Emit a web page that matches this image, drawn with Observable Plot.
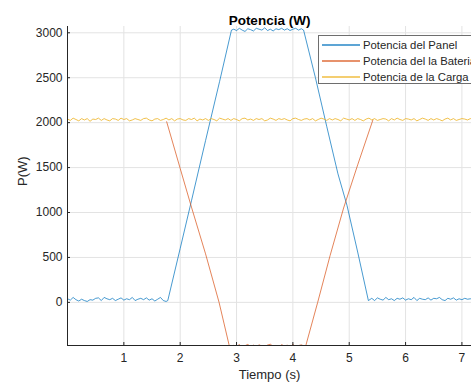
<!DOCTYPE html>
<html>
<head>
<meta charset="utf-8">
<script src="https://cdn.jsdelivr.net/npm/d3@7"></script>
<script src="https://cdn.jsdelivr.net/npm/@observablehq/plot@0.6"></script>
<style>
  html, body { margin: 0; padding: 0; background: #fff; overflow: hidden; }
  #wrap { position: relative; width: 471px; height: 385px; overflow: hidden; font-family: "Liberation Sans", Arial, sans-serif; }
  #legend { position: absolute; left: 318px; top: 35px; }
</style>
</head>
<body>
<div id="wrap"></div>
<script>
// ---- Data ----
const title = "Potencia (W)";
const xLabel = "Tiempo (s)";
const yLabel = "P(W)";
const seriesNames = ["Potencia del Panel", "Potencia del la Bateria", "Potencia de la Carga"];
const seriesColors = ["#0072BD", "#D95319", "#EDB120"];
const xTicks = [1, 2, 3, 4, 5, 6, 7];
const yTicks = [0, 500, 1000, 1500, 2000, 2500, 3000];
const xDomain = [0, 7.17];
const yDomain = [-480, 3070];
const sampleStep = 0.05;

// Panel (blue)
const panelLow1 = [40,25,55,30,15,35,20,10,30,25,45,50,20,55,40,30,45,20,35,50,25,40,30,55,20,35,45,30,50,25,40,15,35,55,20,10]; // t = 0 .. 1.75
const panelRise = [[1.78,20],[2.0,600],[2.2,1130],[2.45,1800],[2.7,2460],[2.91,3030]];
const panelTop = [3040,3025,3050,3030,3015,3045,3035,3020,3050,3040,3030,3055,3025,3040,3020,3045,3035,3050,3030,3045,3025,3040,3050,3030,3045]; // t = 2.95 .. 4.15
const panelFall = [[4.19,3030],[4.4,2500],[4.6,1960],[4.8,1430],[4.96,1080],[5.15,560],[5.34,20]];
const panelLow2 = [45,20,50,35,25,55,30,40,20,45,35,50,25,40,30,55,20,45,35,30,50,25,45,40,55,30,20,45,35,50,25,40,30,45,35,40,30]; // t = 5.4 .. 7.2

// Battery (orange) — outside the dip it lies under the load line
const batFall = [[1.76,2010],[2.0,1490],[2.2,1060],[2.45,540],[2.69,0],[2.87,-480]];
const batLow = [-495,-478,-490,-470,-500,-482,-468,-492,-476,-498,-472,-486,-494,-475,-466,-490,-480,-499,-471,-485,-477,-494,-469,-489,-481,-473,-486]; // t = 2.9 .. 4.2
const batRise = [[4.23,-480],[4.44,0],[4.66,520],[4.9,1050],[5.15,1530],[5.42,2030]];

// Load (yellow), t = 0 .. 7.2
const loadValues = [
2040,2025,2050,2035,2020,2045,2030,2045,2015,2040,
2035,2050,2025,2045,2030,2020,2045,2040,2025,2050,
2035,2045,2020,2030,2045,2035,2025,2045,2050,2030,
2020,2040,2045,2025,2035,2050,2030,2045,2020,2040,
2045,2030,2025,2045,2035,2050,2020,2040,2030,2045,
2025,2045,2035,2020,2050,2040,2030,2045,2025,2045,
2035,2020,2045,2050,2030,2040,2025,2045,2035,2045,
2020,2030,2050,2040,2025,2045,2035,2045,2030,2020,
2045,2050,2035,2025,2040,2045,2030,2045,2020,2035,
2050,2040,2025,2045,2030,2045,2035,2020,2050,2040,
2030,2045,2025,2045,2035,2020,2040,2050,2030,2045,
2025,2035,2045,2040,2020,2045,2030,2050,2035,2025,
2045,2040,2030,2045,2020,2035,2050,2040,2025,2045,
2030,2045,2035,2020,2040,2050,2030,2045,2025,2035,
2045,2040,2030,2045,2035];

// ---- Build rows ----
const sampled = (t0, vals) => vals.map((v, i) => ({t: +(t0 + i * sampleStep).toFixed(3), v}));
const pairs = (arr) => arr.map(([t, v]) => ({t, v}));

const panel = [...sampled(0, panelLow1), ...pairs(panelRise), ...sampled(2.95, panelTop), ...pairs(panelFall), ...sampled(5.4, panelLow2)];
const battery = [...pairs(batFall), ...sampled(2.9, batLow), ...pairs(batRise)];
const load = sampled(0, loadValues);

const W = 471, H = 385;
const mL = 67, mR = 0, mT = 26, mB = 40;
const plotW = W - mL - mR, plotH = H - mT - mB;
const font = "Liberation Sans, Arial, sans-serif";

const chart = Plot.plot({
  width: W, height: H,
  marginLeft: mL, marginRight: mR, marginTop: mT, marginBottom: mB,
  style: {fontFamily: font, background: "#fff", overflow: "visible"},
  x: {domain: xDomain},
  y: {domain: yDomain},
  marks: [
    Plot.gridX(xTicks, {stroke: "#e3e3e3", strokeOpacity: 1}),
    Plot.gridY(yTicks, {stroke: "#e3e3e3", strokeOpacity: 1}),
    Plot.line(panel, {x: "t", y: "v", stroke: seriesColors[0], strokeWidth: 0.85, strokeOpacity: 0.85, clip: true}),
    Plot.line(battery, {x: "t", y: "v", stroke: seriesColors[1], strokeWidth: 0.85, strokeOpacity: 0.85, clip: true}),
    Plot.line(load, {x: "t", y: "v", stroke: seriesColors[2], strokeWidth: 0.9, strokeOpacity: 0.9, clip: true}),
    Plot.ruleX([xDomain[0]], {stroke: "#262626", strokeWidth: 1}),
    Plot.ruleY([yDomain[0]], {stroke: "#262626", strokeWidth: 1}),
    Plot.tickX(xTicks, {x: d => d, stroke: "#262626", insetTop: plotH - 3}),
    Plot.tickY(yTicks, {y: d => d, stroke: "#262626", insetRight: plotW - 3}),
    Plot.axisX(xTicks, {tickSize: 0, tickPadding: 8, fontSize: 12, fill: "#262626", label: null, tickFormat: d => String(d)}),
    Plot.axisY(yTicks, {tickSize: 0, tickPadding: 5, fontSize: 12, fill: "#262626", label: null, tickFormat: d => String(d)}),
    Plot.text([title], {frameAnchor: "top", dy: -11, fontSize: 13.5, fontWeight: "bold", fill: "#000"}),
    Plot.text([xLabel], {frameAnchor: "bottom", dy: 33, fontSize: 13, fill: "#262626"}),
    Plot.text([yLabel], {frameAnchor: "left", dx: -45, rotate: -90, fontSize: 13, fill: "#262626"})
  ]
});

const wrap = document.getElementById("wrap");
wrap.appendChild(chart);

// Legend as a small SVG overlay
const lg = d3.create("svg")
  .attr("id", "legend")
  .attr("width", 170).attr("height", 50)
  .style("overflow", "visible");
lg.append("rect")
  .attr("x", 0.5).attr("y", 0.5).attr("width", 168).attr("height", 48)
  .attr("fill", "#fff").attr("stroke", "#6e6e6e").attr("stroke-width", 1);
seriesNames.forEach((name, i) => {
  const yy = 10 + i * 16;
  lg.append("line")
    .attr("x1", 4).attr("x2", 42).attr("y1", yy).attr("y2", yy)
    .style("stroke", seriesColors[i]).style("stroke-width", "1.3px").style("stroke-opacity", 0.85);
  lg.append("text")
    .attr("x", 45).attr("y", yy).attr("dy", "0.35em")
    .attr("font-family", font).attr("font-size", 11.3).attr("fill", "#262626")
    .text(name);
});
wrap.appendChild(lg.node());
</script>
</body>
</html>
